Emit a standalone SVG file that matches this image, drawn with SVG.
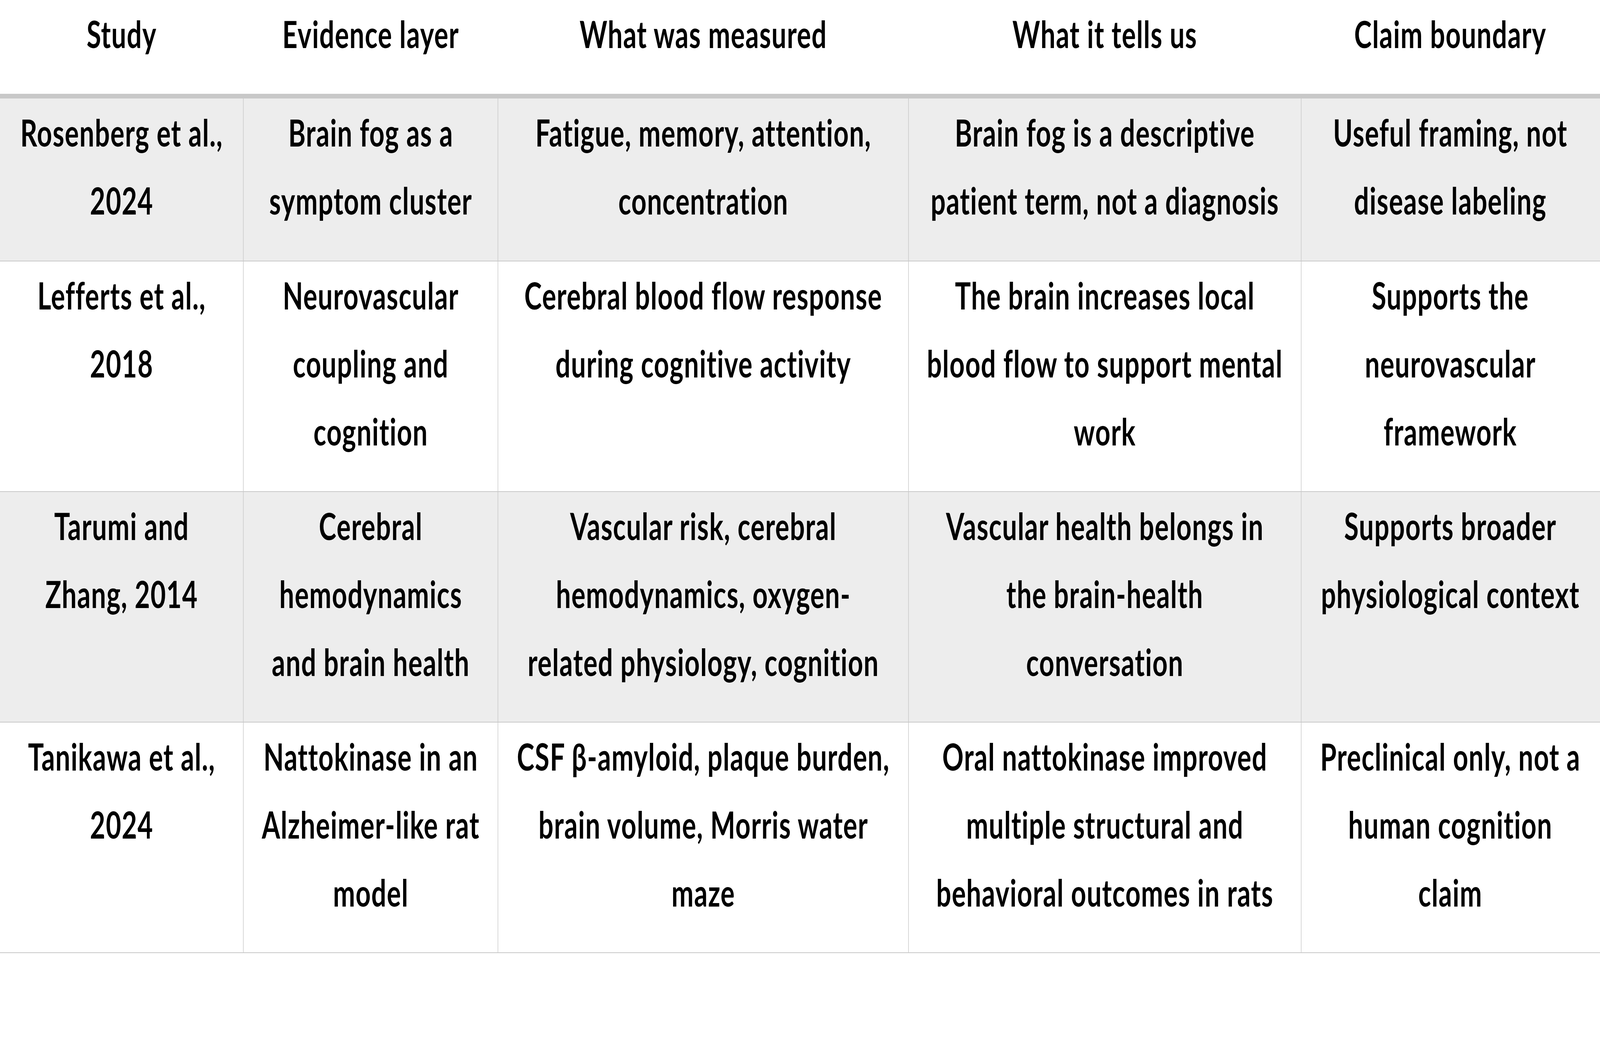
<svg xmlns="http://www.w3.org/2000/svg" width="5826" height="2687" viewBox="0 0 5826 2687" preserveAspectRatio="none">
<style>
svg{width:100vw;height:100vh}
text{font-family:Lato,"Open Sans","Liberation Sans",sans-serif;font-weight:700;font-size:96px;letter-spacing:2px;fill:#000;text-anchor:middle}
.alt{fill:#ededed}
.grid{fill:#c8c8c8}
</style>
<rect x="0" y="0" width="5826" height="2687" fill="#ffffff"/>
<g id="row-backgrounds">
<rect class="alt" x="0" y="252" width="5826" height="415"/>
<rect class="alt" x="0" y="1259" width="5826" height="588"/>
</g>
<g id="grid-lines">
<rect class="grid" x="0" y="240" width="5826" height="12"/>
<rect class="grid" x="0" y="667" width="5826" height="2"/>
<rect class="grid" x="0" y="1257" width="5826" height="2"/>
<rect class="grid" x="0" y="1847" width="5826" height="2"/>
<rect class="grid" x="0" y="2437" width="5826" height="2"/>
<rect class="grid" x="885" y="252" width="2" height="2187"/>
<rect class="grid" x="1812" y="252" width="2" height="2187"/>
<rect class="grid" x="3307" y="252" width="2" height="2187"/>
<rect class="grid" x="4737" y="252" width="2" height="2187"/>
</g>
<g id="header">
<text x="443" y="123">Study</text>
<text x="1350" y="123">Evidence layer</text>
<text x="2561" y="123">What was measured</text>
<text x="4023" y="123">What it tells us</text>
<text x="5281" y="123">Claim boundary</text>
</g>
<g id="row-rosenberg">
<text x="443" y="375">Rosenberg et al.,<tspan x="443" dy="174">2024</tspan></text>
<text x="1350" y="375">Brain fog as a<tspan x="1350" dy="174">symptom cluster</tspan></text>
<text x="2561" y="375">Fatigue, memory, attention,<tspan x="2561" dy="174">concentration</tspan></text>
<text x="4023" y="375">Brain fog is a descriptive<tspan x="4023" dy="174">patient term, not a diagnosis</tspan></text>
<text x="5281" y="375">Useful framing, not<tspan x="5281" dy="174">disease labeling</tspan></text>
</g>
<g id="row-lefferts">
<text x="443" y="792">Lefferts et al.,<tspan x="443" dy="174">2018</tspan></text>
<text x="1350" y="792">Neurovascular<tspan x="1350" dy="174">coupling and</tspan><tspan x="1350" dy="174">cognition</tspan></text>
<text x="2561" y="792">Cerebral blood flow response<tspan x="2561" dy="174">during cognitive activity</tspan></text>
<text x="4023" y="792">The brain increases local<tspan x="4023" dy="174">blood flow to support mental</tspan><tspan x="4023" dy="174">work</tspan></text>
<text x="5281" y="792">Supports the<tspan x="5281" dy="174">neurovascular</tspan><tspan x="5281" dy="174">framework</tspan></text>
</g>
<g id="row-tarumi">
<text x="443" y="1382">Tarumi and<tspan x="443" dy="174">Zhang, 2014</tspan></text>
<text x="1350" y="1382">Cerebral<tspan x="1350" dy="174">hemodynamics</tspan><tspan x="1350" dy="174">and brain health</tspan></text>
<text x="2561" y="1382">Vascular risk, cerebral<tspan x="2561" dy="174">hemodynamics, oxygen-</tspan><tspan x="2561" dy="174">related physiology, cognition</tspan></text>
<text x="4023" y="1382">Vascular health belongs in<tspan x="4023" dy="174">the brain-health</tspan><tspan x="4023" dy="174">conversation</tspan></text>
<text x="5281" y="1382">Supports broader<tspan x="5281" dy="174">physiological context</tspan></text>
</g>
<g id="row-tanikawa">
<text x="443" y="1972">Tanikawa et al.,<tspan x="443" dy="174">2024</tspan></text>
<text x="1350" y="1972">Nattokinase in an<tspan x="1350" dy="174">Alzheimer-like rat</tspan><tspan x="1350" dy="174">model</tspan></text>
<text x="2561" y="1972">CSF β-amyloid, plaque burden,<tspan x="2561" dy="174">brain volume, Morris water</tspan><tspan x="2561" dy="174">maze</tspan></text>
<text x="4023" y="1972">Oral nattokinase improved<tspan x="4023" dy="174">multiple structural and</tspan><tspan x="4023" dy="174">behavioral outcomes in rats</tspan></text>
<text x="5281" y="1972">Preclinical only, not a<tspan x="5281" dy="174">human cognition</tspan><tspan x="5281" dy="174">claim</tspan></text>
</g>
</svg>
